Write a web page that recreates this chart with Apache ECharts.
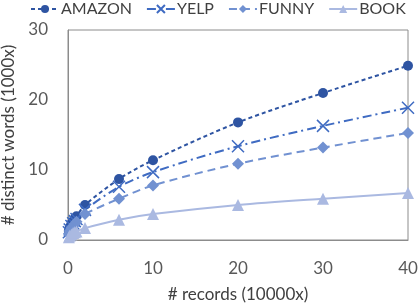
<!DOCTYPE html>
<html>
<head>
<meta charset="utf-8">
<script src="https://cdn.jsdelivr.net/npm/echarts@6/dist/echarts.min.js"></script>
<style>
  html, body { margin: 0; padding: 0; background: #fff; }
  #chart { width: 419px; height: 304px; }
</style>
</head>
<body>
<div id="chart"></div>
<script>
// x: number of records (10000x)
const records = [0.1, 0.2, 0.4, 0.6, 0.8, 1, 2, 6, 10, 20, 30, 40];

// y: distinct words (1000x)
const amazon = [1.3, 1.8, 2.3, 2.7, 3.1, 3.4, 5.0, 8.7, 11.4, 16.8, 21.0, 24.9];
const yelp = [1.1, 1.5, 2.0, 2.4, 2.7, 3.0, 4.3, 7.6, 9.7, 13.4, 16.3, 18.9];
const funny = [0.9, 1.3, 1.7, 2.0, 2.3, 2.6, 3.7, 5.9, 7.8, 10.9, 13.2, 15.3];
const book = [0.4, 0.6, 0.8, 1.0, 1.1, 1.2, 1.7, 2.9, 3.7, 5.0, 5.9, 6.7];

const FONT = 'Lato';
const crossPath = 'path://M0,0L10,10M10,0L0,10';

function pairs(ys) {
  return records.map((x, i) => [x, ys[i]]);
}

const seriesDefs = [
  { name: 'AMAZON', data: amazon, color: '#2E54A2', symbol: 'circle', size: 10, dash: [4, 3] },
  { name: 'YELP', data: yelp, color: '#3F6BC2', symbol: crossPath, size: 12, dash: [9, 4, 2, 4] },
  { name: 'FUNNY', data: funny, color: '#7191D1', symbol: 'diamond', size: 12, dash: [8, 5] },
  { name: 'BOOK', data: book, color: '#AAB9E1', symbol: 'triangle', size: 12, dash: 'solid' },
];

const chart = echarts.init(document.getElementById('chart'));

chart.setOption({
  animation: false,
  textStyle: { fontFamily: FONT },
  legend: {
    top: 1,
    left: 30,
    padding: 0,
    itemGap: 14,
    itemWidth: 28,
    itemHeight: 10,
    textStyle: { fontSize: 16, color: '#404040', fontFamily: FONT, padding: [0, 0, 0, -3] },
    data: seriesDefs.map((s) => s.name),
  },
  grid: { left: 68, right: 11, top: 30, bottom: 64, containLabel: false, outerBoundsMode: 'none' },
  xAxis: {
    type: 'value',
    min: 0,
    max: 40,
    interval: 10,
    name: '# records (10000x)',
    nameLocation: 'middle',
    nameGap: 46,
    nameTextStyle: { fontSize: 17, color: '#404040' },
    axisLine: { show: true, lineStyle: { color: '#8c8c8c', width: 1 } },
    axisTick: { show: false },
    splitLine: { show: false },
    axisLabel: { fontSize: 17, color: '#595959', margin: 20 },
  },
  yAxis: {
    type: 'value',
    min: 0,
    max: 30,
    interval: 10,
    name: '# distinct words (1000x)',
    nameLocation: 'middle',
    nameGap: 46,
    nameTextStyle: { fontSize: 17, color: '#404040' },
    axisLine: { show: true, lineStyle: { color: '#8c8c8c', width: 1 } },
    axisTick: { show: false },
    splitLine: { show: false },
    axisLabel: { fontSize: 17, color: '#595959', margin: 20 },
  },
  series: seriesDefs.map((s) => ({
    name: s.name,
    type: 'line',
    smooth: 0.3,
    data: pairs(s.data),
    symbol: s.symbol,
    symbolSize: s.size,
    showSymbol: true,
    itemStyle: s.symbol === crossPath
      ? { color: 'rgba(0,0,0,0)', borderColor: s.color, borderWidth: 1.5 }
      : { color: s.color },
    lineStyle: { color: s.color, width: 2, type: s.dash },
    color: s.color,
  })).concat([{
    type: 'line',
    data: [],
    silent: true,
    markArea: {
      silent: true,
      itemStyle: { color: 'rgba(0,0,0,0)', borderColor: '#8c8c8c', borderWidth: 1 },
      data: [[{ coord: [0, 0] }, { coord: [40, 30] }]],
    },
  }]),
});
</script>
</body>
</html>
